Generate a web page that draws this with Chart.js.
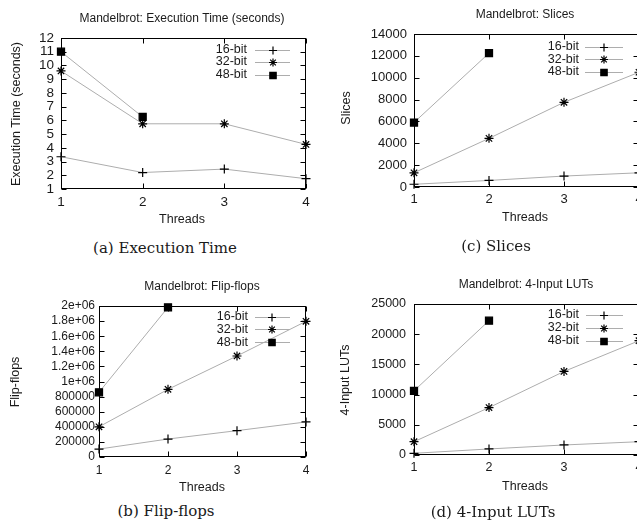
<!DOCTYPE html>
<html>
<head>
<meta charset="utf-8">
<script src="https://cdn.jsdelivr.net/npm/chart.js@4/dist/chart.umd.min.js"></script>
<style>
  html, body { margin:0; padding:0; background:#fff; overflow:hidden; }
  #wrap { position:relative; width:637px; height:527px; overflow:hidden; background:#fff; }
  canvas { position:absolute; }
  .cap { position:absolute; transform:translate(-50%,-50%); font-family:"DejaVu Serif", serif; font-size:15px; color:#1a1a1a; white-space:nowrap; }
</style>
</head>
<body>
<div id="wrap">
  <canvas id="cA" width="318" height="235" style="left:0;top:0"></canvas>
  <canvas id="cC" width="340" height="235" style="left:317px;top:0"></canvas>
  <canvas id="cB" width="318" height="240" style="left:0;top:262px"></canvas>
  <canvas id="cD" width="340" height="240" style="left:317px;top:262px"></canvas>
  <div class="cap" style="left:165px;top:248px">(a) Execution Time</div>
  <div class="cap" style="left:496px;top:246px">(c) Slices</div>
  <div class="cap" style="left:166px;top:511px">(b) Flip-flops</div>
  <div class="cap" style="left:493px;top:512px">(d) 4-Input LUTs</div>
</div>
<script>
// ---- data ----
const threads = ['1', '2', '3', '4'];
const seriesNames = ['16-bit', '32-bit', '48-bit'];

const timeBit16 = [3.35, 2.2, 2.45, 1.75];
const timeBit32 = [9.6, 5.75, 5.75, 4.25];
const timeBit48 = [11.0, 6.25];
const timeTicks = [1, 2, 3, 4, 5, 6, 7, 8, 9, 10, 11, 12];

const slicesBit16 = [250, 600, 1000, 1300];
const slicesBit32 = [1300, 4450, 7750, 10500];
const slicesBit48 = [5900, 12250];
const slicesTicks = [0, 2000, 4000, 6000, 8000, 10000, 12000, 14000];

const ffBit16 = [105000, 238000, 349000, 464000];
const ffBit32 = [400000, 896000, 1338000, 1797000];
const ffBit48 = [857000, 1982000];
const ffTicks = [0, 200000, 400000, 600000, 800000, 1000000, 1200000, 1400000, 1600000, 1800000, 2000000];

const lutBit16 = [280, 1000, 1660, 2200];
const lutBit32 = [2200, 7850, 13830, 18920];
const lutBit48 = [10620, 22240];
const lutTicks = [0, 5000, 10000, 15000, 20000, 25000];

// ---- styling ----
const FONT = '"Liberation Sans", Arial, sans-serif';
const LINE = '#adadad';
const TEXT = '#1a1a1a';
const pointStyles = ['cross', 'star', 'rect'];
const pointRadii = [4.5, 4.5, 5];

function ffFormat(v) {
  if (v >= 1000000) return (Math.round(v / 100000) / 10) + 'e+06';
  return String(v);
}

function makeChart(id, cfg) {
  const canvas = document.getElementById(id);
  const W = canvas.width, H = canvas.height;
  const L = cfg.area.L - cfg.origin[0], R = cfg.area.R - cfg.origin[0];
  const T = cfg.area.T - cfg.origin[1], B = cfg.area.B - cfg.origin[1];
  const vals = [cfg.s16, cfg.s32, cfg.s48];
  const datasets = vals.map((d, i) => ({
    label: seriesNames[i],
    data: d,
    borderColor: LINE,
    borderWidth: 1,
    pointStyle: pointStyles[i],
    pointRadius: pointRadii[i],
    pointBorderColor: '#000',
    pointBackgroundColor: '#000',
    pointBorderWidth: 1.2,
    pointHoverRadius: pointRadii[i],
    clip: false,
    tension: 0
  }));
  const ticks = cfg.ticks;
  const o = cfg.origin;
  const decor = {
    id: 'decor',
    beforeDatasetsDraw(chart) {
      const { ctx, chartArea: a, scales: { x, y } } = chart;
      ctx.save();
      ctx.strokeStyle = '#000';
      ctx.lineWidth = 1;
      const l = Math.round(a.left) + 0.5, r = Math.round(a.right) - 0.5;
      const t = Math.round(a.top) + 0.5, b = Math.round(a.bottom) - 0.5;
      ctx.strokeRect(l, t, r - l, b - t);
      ctx.beginPath();
      const TL = 5;
      y.ticks.forEach(tk => {
        const py = Math.round(y.getPixelForValue(tk.value)) + 0.5;
        ctx.moveTo(l, py); ctx.lineTo(l + TL, py);
        ctx.moveTo(r, py); ctx.lineTo(r - TL, py);
      });
      x.ticks.forEach((tk, i) => {
        const px = Math.round(x.getPixelForTick(i)) + 0.5;
        ctx.moveTo(px, b); ctx.lineTo(px, b - TL);
        ctx.moveTo(px, t); ctx.lineTo(px, t + TL);
      });
      ctx.stroke();
      ctx.restore();
    },
    afterDraw(chart) {
      const { ctx } = chart;
      ctx.save();
      ctx.fillStyle = TEXT;
      ctx.font = cfg.titleSize + 'px ' + FONT;
      ctx.textAlign = 'center';
      ctx.textBaseline = 'middle';
      ctx.fillText(cfg.title, cfg.titlePos[0] - o[0], cfg.titlePos[1] - o[1]);
      ctx.font = cfg.axisSize + 'px ' + FONT;
      ctx.fillText('Threads', cfg.xTitlePos[0] - o[0], cfg.xTitlePos[1] - o[1]);
      ctx.save();
      ctx.translate(cfg.yTitlePos[0] - o[0], cfg.yTitlePos[1] - o[1]);
      ctx.rotate(-Math.PI / 2);
      ctx.fillText(cfg.yTitle, 0, 0);
      ctx.restore();
      const lg = cfg.legend;
      chart.data.datasets.forEach((ds, i) => {
        const yy = lg.rows[i] - o[1];
        ctx.font = cfg.legendSize + 'px ' + FONT;
        ctx.textAlign = 'right';
        ctx.fillStyle = TEXT;
        ctx.fillText(ds.label, lg.textRight - o[0], yy);
        ctx.strokeStyle = LINE;
        ctx.lineWidth = 1;
        ctx.beginPath();
        ctx.moveTo(lg.x0 - o[0], Math.round(yy) + 0.5);
        ctx.lineTo(lg.x1 - o[0], Math.round(yy) + 0.5);
        ctx.stroke();
        ctx.strokeStyle = '#000';
        ctx.fillStyle = '#000';
        ctx.lineWidth = 1.2;
        Chart.helpers.drawPoint(ctx, {
          pointStyle: ds.pointStyle, radius: i === 2 ? 4.5 : 4, borderWidth: 1.2, rotation: 0
        }, lg.mx - o[0], Math.round(yy) + 0.5);
      });
      ctx.restore();
    }
  };
  return new Chart(canvas, {
    type: 'line',
    data: { labels: threads, datasets },
    plugins: [decor],
    options: {
      responsive: false,
      devicePixelRatio: 1,
      animation: false,
      events: [],
      layout: { padding: { left: 0, top: T, right: W - R, bottom: 0 } },
      plugins: { legend: { display: false }, title: { display: false }, tooltip: { enabled: false } },
      scales: {
        x: {
          type: 'category',
          offset: false,
          grid: { display: false, drawTicks: false },
          border: { display: false },
          ticks: { color: TEXT, font: { family: FONT, size: cfg.tickSize }, padding: cfg.xPad, maxRotation: 0, autoSkip: false },
          afterFit(s) { s.height = H - B; }
        },
        y: {
          type: 'linear',
          min: ticks[0],
          max: ticks[ticks.length - 1],
          grid: { display: false, drawTicks: false },
          border: { display: false },
          ticks: {
            color: TEXT,
            font: { family: FONT, size: cfg.tickSize },
            padding: cfg.yPad,
            stepSize: ticks[1] - ticks[0],
            autoSkip: false,
            callback: cfg.fmt || (v => String(v))
          },
          afterFit(s) { s.width = L; }
        }
      }
    }
  });
}

makeChart('cA', {
  origin: [0, 0],
  area: { L: 61, R: 306, T: 38, B: 189 },
  s16: timeBit16, s32: timeBit32, s48: timeBit48, ticks: timeTicks,
  title: 'Mandelbrot: Execution Time (seconds)', titlePos: [182, 19], titleSize: 12,
  yTitle: 'Execution Time (seconds)', yTitlePos: [17, 114],
  xTitlePos: [182, 220], axisSize: 12.5,
  tickSize: 13.5, xPad: 5, yPad: 7,
  legend: { textRight: 247, rows: [49.5, 62, 74.5], x0: 255, x1: 290, mx: 273 }, legendSize: 12.5
});

makeChart('cC', {
  origin: [317, 0],
  area: { L: 414, R: 639, T: 34, B: 187 },
  s16: slicesBit16, s32: slicesBit32, s48: slicesBit48, ticks: slicesTicks,
  title: 'Mandelbrot: Slices', titlePos: [525, 15], titleSize: 12,
  yTitle: 'Slices', yTitlePos: [347, 108],
  xTitlePos: [525, 218], axisSize: 12.5,
  tickSize: 13, xPad: 5, yPad: 7,
  legend: { textRight: 579, rows: [46.7, 59.3, 71.7], x0: 585, x1: 623, mx: 604 }, legendSize: 12.5
});

makeChart('cB', {
  origin: [0, 262],
  area: { L: 99, R: 306, T: 306, B: 457 },
  s16: ffBit16, s32: ffBit32, s48: ffBit48, ticks: ffTicks, fmt: ffFormat,
  title: 'Mandelbrot: Flip-flops', titlePos: [202, 287], titleSize: 12,
  yTitle: 'Flip-flops', yTitlePos: [16, 382],
  xTitlePos: [202, 488], axisSize: 12.5,
  tickSize: 12, xPad: 6, yPad: 4,
  legend: { textRight: 248, rows: [316.7, 329.3, 342.3], x0: 255, x1: 290, mx: 272 }, legendSize: 12.5
});

makeChart('cD', {
  origin: [317, 262],
  area: { L: 414, R: 639, T: 304, B: 455 },
  s16: lutBit16, s32: lutBit32, s48: lutBit48, ticks: lutTicks,
  title: 'Mandelbrot: 4-Input LUTs', titlePos: [526, 285], titleSize: 12,
  yTitle: '4-Input LUTs', yTitlePos: [346, 380],
  xTitlePos: [525, 487], axisSize: 12.5,
  tickSize: 12.5, xPad: 5, yPad: 8,
  legend: { textRight: 579, rows: [315, 327.7, 340.7], x0: 586, x1: 623, mx: 604 }, legendSize: 12.5
});
</script>
</body>
</html>
